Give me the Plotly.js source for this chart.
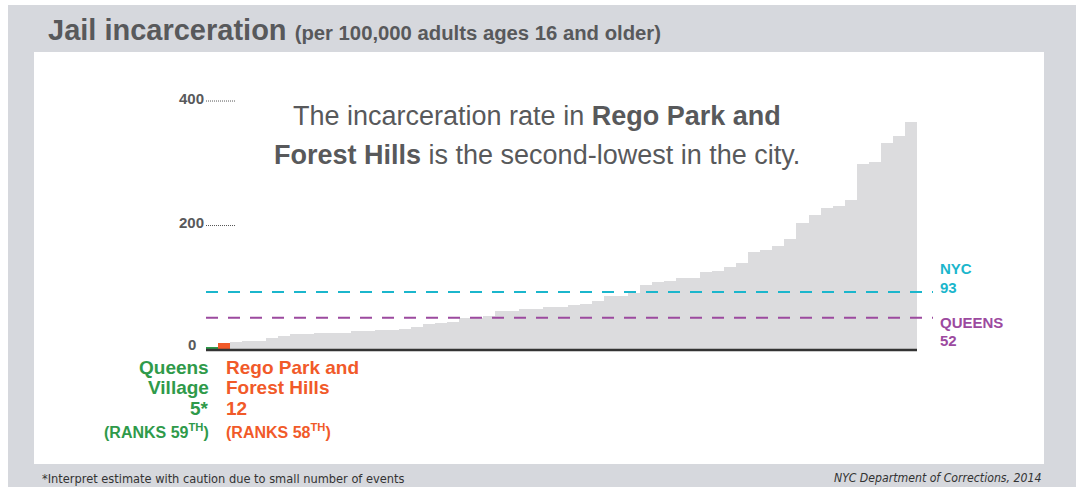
<!DOCTYPE html>
<html><head><meta charset="utf-8">
<script src="https://cdn.plot.ly/plotly-3.0.1.min.js"></script>
<style>html,body{margin:0;padding:0;background:#fff;}#chart{width:1084px;height:487px;}</style>
</head><body><div id="chart"></div>
<script>
// ---- data ----
const ranks = ['59','58','57','56','55','54','53','52','51','50','49','48','47','46','45','44','43','42','41','40',
  '39','38','37','36','35','34','33','32','31','30','29','28','27','26','25','24','23','22','21','20',
  '19','18','17','16','15','14','13','12','11','10','9','8','7','6','5','4','3','2','1'];
const rates = [5,12,13,15,15,20,23,25,25,27,27,28,30,31,32,32,34,37,42,43,
  45,51,51,54,63,63,66,66,69,69,72,74,79,87,87,92,104,109,111,116,
  116,125,127,133,140,157,161,167,178,204,217,228,231,241,299,302,333,344,366];
const refNames = ['NYC','QUEENS'];
const refRates = [93,52];
const yTickVals = [0,200,400];
const yTickText = ['0','200','400'];
const hlNames = [['Queens','Village'],['Rego Park and','Forest Hills']];
const hlIndex = [0,1];
const hlNotes = ['*',''];

// ---- styling ----
const W=1084,H=487,L=206,R=167,T=62,B=135;
const pw=W-L-R, ph=H-T-B;
const px=x=>(x-L)/pw, py=y=>(H-B-y)/ph;
const GRAY='#dcdcde', GREEN='#2f9a4a', ORANGE='#f15a29', TXT='#58595b';
const refColors=['#1bb6cc','#9c4a9f'];
const refShifts=[[24,5],[-5,-23]];
const hlColors=[GREEN,ORANGE];
const FONT='Liberation Sans, Arial, sans-serif';
const NARROW='Liberation Sans Narrow, DejaVu Sans Condensed, Arial, sans-serif';

const colors = rates.map((v,i)=>{const k=hlIndex.indexOf(i);return k>=0?hlColors[k]:GRAY;});

const shapes=[
  {type:'rect',xref:'paper',yref:'paper',x0:px(8),x1:px(1076),y0:py(487),y1:py(5),fillcolor:'#d6d8dd',line:{width:0},layer:'below'},
  {type:'rect',xref:'paper',yref:'paper',x0:px(34),x1:px(1044),y0:py(464),y1:py(52),fillcolor:'#ffffff',line:{width:0},layer:'below'}
];
refRates.forEach((v,i)=>shapes.push({type:'line',xref:'paper',yref:'y',x0:0,x1:px(933),y0:v,y1:v,
  line:{color:refColors[i],width:2,dash:'12px,10px'},layer:'above'}));
yTickVals.forEach(v=>{ if(v>0) shapes.push({type:'line',xref:'paper',yref:'y',x0:0,x1:px(235),y0:v,y1:v,
  line:{color:'#555',width:1,dash:'1px,1px'}});});
shapes.push({type:'line',xref:'paper',yref:'y',x0:0,x1:1,y0:0,y1:0,line:{color:'#333',width:2.5},layer:'above'});

const ann=[];
ann.push({xref:'paper',yref:'paper',x:px(46),y:py(30),xanchor:'left',yanchor:'middle',showarrow:false,
  text:"<b>Jail incarceration</b> <b><span style='font-size:20.3px'>(per 100,000 adults ages 16 and older)</span></b>",
  font:{family:FONT,size:29,color:TXT}});
ann.push({xref:'paper',yref:'paper',x:px(537),y:py(116),xanchor:'center',yanchor:'middle',showarrow:false,
  text:'The incarceration rate in <b>Rego Park and</b>',font:{family:FONT,size:27,color:TXT}});
ann.push({xref:'paper',yref:'paper',x:px(537),y:py(155),xanchor:'center',yanchor:'middle',showarrow:false,
  text:'<b>Forest Hills</b> is the second-lowest in the city.',font:{family:FONT,size:27,color:TXT}});
yTickVals.forEach((v,i)=>ann.push({xref:'paper',yref:'y',x:px(v===0?198:206),y:v,xanchor:'right',yanchor:'middle',yshift:v===0?6:3,
  showarrow:false,text:'<b>'+yTickText[i]+'</b>',font:{family:FONT,size:15,color:TXT}}));
refRates.forEach((v,i)=>{
  ann.push({xref:'paper',yref:'y',x:px(938),y:v,xanchor:'left',yanchor:'middle',yshift:refShifts[i][0],showarrow:false,
    text:'<b>'+refNames[i]+'</b>',font:{family:FONT,size:15,color:refColors[i]}});
  ann.push({xref:'paper',yref:'y',x:px(938),y:v,xanchor:'left',yanchor:'middle',yshift:refShifts[i][1],showarrow:false,
    text:'<b>'+v+'</b>',font:{family:FONT,size:15,color:refColors[i]}});
});
hlIndex.forEach((idx,k)=>{
  const right = k===0;
  const xa = right?'right':'left';
  const xp = right?px(211):px(224);
  const lines = hlNames[k].concat([rates[idx]+hlNotes[k]]);
  const ys=[367,387,408];
  lines.forEach((t,j)=>ann.push({xref:'paper',yref:'paper',x:xp,y:py(ys[j]),xanchor:xa,yanchor:'middle',showarrow:false,
    text:'<b>'+t+'</b>',font:{family:FONT,size:19,color:hlColors[k]}}));
  ann.push({xref:'paper',yref:'paper',x:xp,y:py(431),xanchor:xa,yanchor:'middle',showarrow:false,
    text:'<b>(RANKS '+ranks[idx]+'<sup>TH</sup>)</b>',font:{family:FONT,size:16,color:hlColors[k]}});
});
ann.push({xref:'paper',yref:'paper',x:px(40),y:py(478),xanchor:'left',yanchor:'middle',showarrow:false,
  text:'*Interpret estimate with caution due to small number of events',font:{family:NARROW,size:12.7,color:'#333'}});
ann.push({xref:'paper',yref:'paper',x:px(1043),y:py(478),xanchor:'right',yanchor:'middle',showarrow:false,
  text:'<i>NYC Department of Corrections, 2014</i>',font:{family:NARROW,size:12.2,color:'#333'}});

const trace={type:'bar',x:ranks,y:rates,marker:{color:colors,line:{width:0}},hoverinfo:'y'};
const layout={width:W,height:H,margin:{l:L,r:R,t:T,b:B,pad:0},
  paper_bgcolor:'#ffffff',plot_bgcolor:'rgba(0,0,0,0)',bargap:0,showlegend:false,
  xaxis:{type:'category',range:[-0.5,rates.length-0.5],visible:false,fixedrange:true},
  yaxis:{range:[-3.2,462.7],visible:false,fixedrange:true},
  shapes:shapes,annotations:ann};
Plotly.newPlot('chart',[trace],layout,{displayModeBar:false,staticPlot:true});
</script></body></html>
